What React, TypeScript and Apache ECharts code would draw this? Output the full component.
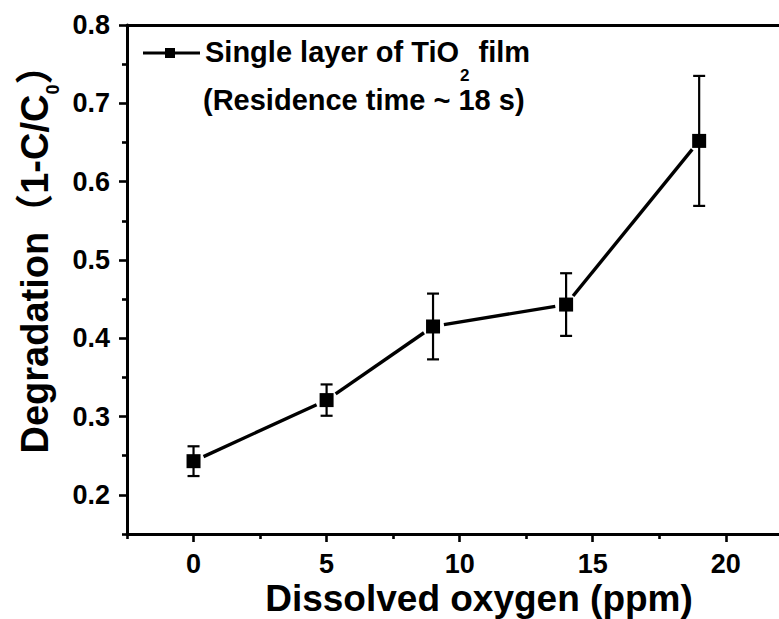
import React, { useEffect, useRef } from "react";
import * as echarts from "echarts";

// Dissolved oxygen (ppm) and measured degradation (1 - C/C0) with error bars
const oxygenPpm = [0, 5, 9, 14, 19];
const degradation = [0.243, 0.321, 0.415, 0.443, 0.652];
const degradationErr = [0.019, 0.02, 0.042, 0.04, 0.083];

const xMajorTicks = [0, 5, 10, 15, 20];
const xMinorTicks = [-2.5, 2.5, 7.5, 12.5, 17.5];
const yMajorTicks = [0.2, 0.3, 0.4, 0.5, 0.6, 0.7, 0.8];
const yMinorTicks = [0.15, 0.25, 0.35, 0.45, 0.55, 0.65, 0.75];

const X_MIN = -2.5;
const X_MAX = 22;
const Y_MIN = 0.15;
const Y_MAX = 0.8;

const FONT = "'Liberation Sans', Arial, 'Noto Sans CJK SC', sans-serif";

export default function App() {
  const ref = useRef<HTMLDivElement>(null);

  useEffect(() => {
    if (!ref.current) return;
    const chart = echarts.init(ref.current, null, { renderer: "svg" });

    const segments = oxygenPpm.slice(0, -1).map((x, i) => [
      x,
      degradation[i],
      oxygenPpm[i + 1],
      degradation[i + 1],
    ]);
    const bars = oxygenPpm.map((x, i) => [
      x,
      degradation[i] - degradationErr[i],
      degradation[i] + degradationErr[i],
    ]);
    const points = oxygenPpm.map((x, i) => [x, degradation[i]]);

    const axisBase = {
      type: "value" as const,
      splitLine: { show: false },
    };
    const lineStyle = { color: "#000", width: 3 };
    const tickStyle = { color: "#000", width: 2.6 };
    const labelStyle = {
      color: "#000",
      fontFamily: FONT,
      fontWeight: "bold" as const,
      fontSize: 27,
    };

    chart.setOption({
      animation: false,
      backgroundColor: "#fff",
      grid: { left: 127, right: 0, top: 25, bottom: 85 },
      xAxis: [
        {
          ...axisBase,
          min: X_MIN,
          max: X_MAX,
          position: "bottom",
          axisLine: { show: true, onZero: false, lineStyle },
          axisTick: { show: true, length: 8, lineStyle: tickStyle, customValues: xMajorTicks },
          axisLabel: { ...labelStyle, margin: 19, lineHeight: 22, customValues: xMajorTicks },
        },
        {
          ...axisBase,
          min: X_MIN,
          max: X_MAX,
          position: "bottom",
          axisLine: { show: false, onZero: false },
          axisTick: { show: true, length: 5, lineStyle: tickStyle, customValues: xMinorTicks },
          axisLabel: { show: false },
        },
        {
          ...axisBase,
          min: X_MIN,
          max: X_MAX,
          position: "top",
          axisLine: { show: true, onZero: false, lineStyle },
          axisTick: { show: false },
          axisLabel: { show: false },
        },
      ],
      yAxis: [
        {
          ...axisBase,
          min: Y_MIN,
          max: Y_MAX,
          position: "left",
          axisLine: { show: true, onZero: false, lineStyle },
          axisTick: { show: true, length: 8, lineStyle: tickStyle, customValues: yMajorTicks },
          axisLabel: {
            ...labelStyle,
            margin: 17,
            customValues: yMajorTicks,
            formatter: (v: number) => v.toFixed(1),
          },
        },
        {
          ...axisBase,
          min: Y_MIN,
          max: Y_MAX,
          position: "left",
          axisLine: { show: false, onZero: false },
          axisTick: { show: true, length: 5, lineStyle: tickStyle, customValues: yMinorTicks },
          axisLabel: { show: false },
        },
      ],
      series: [
        {
          // connecting line, broken just short of each marker
          type: "custom",
          xAxisIndex: 0,
          yAxisIndex: 0,
          data: segments,
          encode: { x: [0, 2], y: [1, 3] },
          renderItem: (_p: any, api: any) => {
            const a = api.coord([api.value(0), api.value(1)]);
            const b = api.coord([api.value(2), api.value(3)]);
            const dx = b[0] - a[0];
            const dy = b[1] - a[1];
            const len = Math.hypot(dx, dy);
            const gap = 11;
            return {
              type: "line",
              shape: {
                x1: a[0] + (dx / len) * gap,
                y1: a[1] + (dy / len) * gap,
                x2: b[0] - (dx / len) * gap,
                y2: b[1] - (dy / len) * gap,
              },
              style: { stroke: "#000", lineWidth: 3.4 },
            };
          },
          z: 2,
        },
        {
          // vertical error bars with caps
          type: "custom",
          xAxisIndex: 0,
          yAxisIndex: 0,
          data: bars,
          encode: { x: 0, y: [1, 2] },
          renderItem: (_p: any, api: any) => {
            const lo = api.coord([api.value(0), api.value(1)]);
            const hi = api.coord([api.value(0), api.value(2)]);
            const cap = 6;
            const st = { stroke: "#000", lineWidth: 2.2 };
            return {
              type: "group",
              children: [
                { type: "line", shape: { x1: hi[0], y1: hi[1], x2: lo[0], y2: lo[1] }, style: st },
                { type: "line", shape: { x1: hi[0] - cap, y1: hi[1], x2: hi[0] + cap, y2: hi[1] }, style: st },
                { type: "line", shape: { x1: lo[0] - cap, y1: lo[1], x2: lo[0] + cap, y2: lo[1] }, style: st },
              ],
            };
          },
          z: 3,
        },
        {
          type: "scatter",
          xAxisIndex: 0,
          yAxisIndex: 0,
          data: points,
          symbol: "rect",
          symbolSize: 14,
          itemStyle: { color: "#000", opacity: 1 },
          z: 4,
        },
      ],
      graphic: [
        // legend entry
        {
          type: "line",
          shape: { x1: 143, y1: 53, x2: 200, y2: 53 },
          style: { stroke: "#000", lineWidth: 3 },
        },
        {
          type: "rect",
          shape: { x: 165, y: 48, width: 10, height: 10 },
          style: { fill: "#000" },
        },
        {
          type: "text",
          x: 205,
          y: 37,
          style: {
            text: "{m|Single layer of TiO}{s|2}{m| film}",
            align: "left",
            verticalAlign: "top",
            rich: {
              m: {
                fontFamily: FONT,
                fontWeight: "bold",
                fontSize: 29,
                lineHeight: 34,
                verticalAlign: "top",
                fill: "#000",
              },
              s: {
                fontFamily: FONT,
                fontWeight: "bold",
                fontSize: 17,
                lineHeight: 17,
                padding: [30, 1, 0, 1],
                verticalAlign: "top",
                fill: "#000",
              },
            },
          },
        },
        {
          type: "text",
          x: 203,
          y: 100,
          style: {
            text: "(Residence time ~ 18 s)",
            align: "left",
            verticalAlign: "middle",
            fontFamily: FONT,
            fontWeight: "bold",
            fontSize: 29,
            fill: "#000",
          },
        },
        // x-axis title
        {
          type: "text",
          x: 479,
          y: 598,
          style: {
            text: "Dissolved oxygen (ppm)",
            align: "center",
            verticalAlign: "middle",
            fontFamily: FONT,
            fontWeight: "bold",
            fontSize: 37,
            lineHeight: 36,
            fill: "#000",
          },
        },
        // y-axis title
        {
          type: "text",
          x: 38,
          y: 250,
          rotation: Math.PI / 2,
          style: {
            text: "{m|Degradation（1-C/C}{s|0}{m|）}",
            align: "center",
            verticalAlign: "middle",
            rich: {
              m: {
                fontFamily: FONT,
                fontWeight: "bold",
                fontSize: 38,
                lineHeight: 44,
                verticalAlign: "top",
                fill: "#000",
              },
              s: {
                fontFamily: FONT,
                fontWeight: "bold",
                fontSize: 18,
                lineHeight: 18,
                padding: [28, 0, 0, 0],
                verticalAlign: "top",
                fill: "#000",
              },
            },
          },
        },
      ],
    });

    return () => chart.dispose();
  }, []);

  return (
    <div
      ref={ref}
      style={{ position: "fixed", left: 0, top: 0, width: 779, height: 619, background: "#fff" }}
    />
  );
}
